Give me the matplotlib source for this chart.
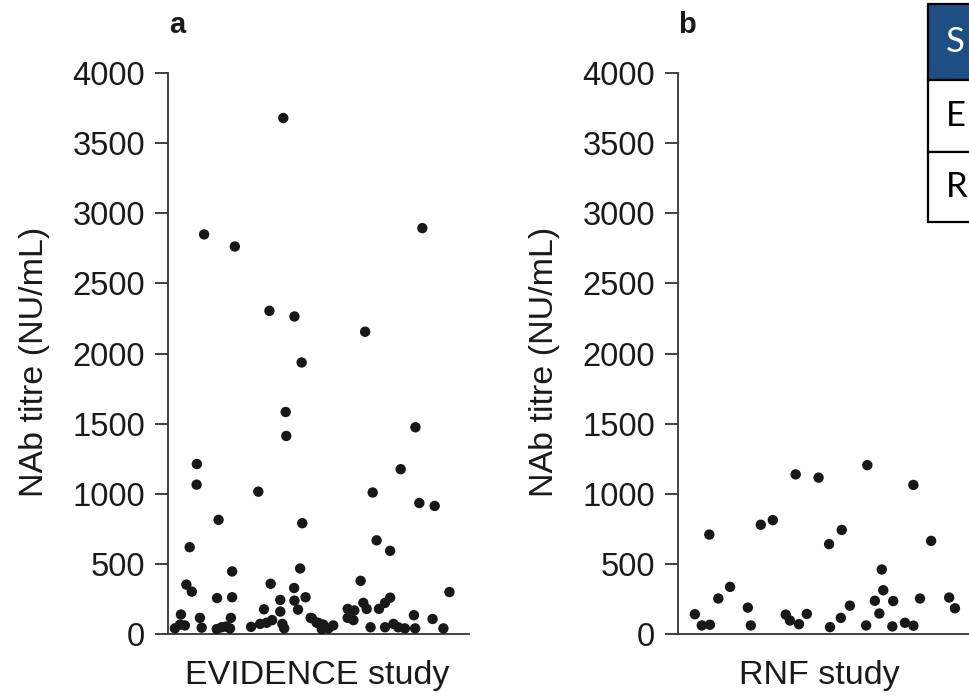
import matplotlib.pyplot as plt
from matplotlib.patches import Rectangle

# EVIDENCE study: position within the strip (0-1) and NAb titre (NU/mL)
evidence_pos = [0.383, 0.120, 0.222, 0.337, 0.420, 0.444, 0.391, 0.393, 0.096, 0.095,
                0.300, 0.168, 0.446, 0.072, 0.213, 0.439, 0.061, 0.079, 0.341, 0.419,
                0.163, 0.213, 0.373, 0.420, 0.457, 0.043, 0.106, 0.209, 0.319, 0.373,
                0.432, 0.474, 0.023, 0.040, 0.056, 0.112, 0.162, 0.178, 0.193, 0.206,
                0.276, 0.306, 0.328, 0.346, 0.380, 0.386, 0.494,
                0.845, 0.655, 0.822, 0.773, 0.680, 0.835, 0.886, 0.693, 0.738, 0.640,
                0.935, 0.649, 0.660, 0.701, 0.721, 0.738, 0.597, 0.619, 0.597, 0.616,
                0.478, 0.499, 0.516, 0.533, 0.549, 0.511, 0.673, 0.721, 0.749, 0.765,
                0.787, 0.817, 0.821, 0.879, 0.915]
evidence_titre = [3679, 2849, 2763, 2304, 2264, 1936, 1583, 1412, 1212, 1065,
                  1015, 814, 790, 619, 446, 467, 352, 302, 358, 328,
                  256, 262, 243, 238, 262, 139, 115, 115, 176, 160,
                  174, 115, 40, 67, 61, 45, 35, 48, 53, 40,
                  51, 72, 80, 99, 72, 40, 80,
                  2894, 2155, 1474, 1175, 1009, 934, 913, 668, 593, 379,
                  299, 222, 179, 179, 222, 259, 179, 168, 115, 99,
                  112, 80, 67, 40, 61, 35, 48, 48, 72, 48,
                  40, 134, 40, 107, 40]

# RNF study
rnf_pos = [0.104, 0.056, 0.079, 0.106, 0.134, 0.173, 0.232, 0.242, 0.275, 0.315,
           0.391, 0.467, 0.629, 0.782, 0.544, 0.502, 0.841, 0.677, 0.682, 0.654,
           0.715, 0.804, 0.901, 0.920, 0.571, 0.541, 0.669, 0.428, 0.358, 0.372,
           0.402, 0.505, 0.625, 0.712, 0.754, 0.782]
rnf_titre = [709, 141, 61, 66, 253, 336, 188, 61, 779, 812,
             1138, 1115, 1204, 1063, 742, 641, 664, 460, 312, 237,
             235, 253, 260, 183, 202, 115, 146, 143, 138, 96,
             70, 49, 61, 54, 80, 59]

yticks = [0, 500, 1000, 1500, 2000, 2500, 3000, 3500, 4000]
table_rows = ['S', 'E', 'R']

plt.rcParams['font.family'] = ['Liberation Sans', 'DejaVu Sans']

W, H = 969, 696
fig = plt.figure(figsize=(W / 100, H / 100), dpi=100)

def panel(left_px, pos, titre, letter, xlabel, xlab_x):
    ax = fig.add_axes([left_px / W, (H - 634) / H, 301 / W, 561 / H])
    ax.scatter(pos, titre, s=56, color='#181818', edgecolors='none', zorder=3,
               clip_on=False)
    ax.set_xlim(0, 1)
    ax.set_ylim(0, 4000)
    ax.set_yticks(yticks)
    for s in ['top', 'right']:
        ax.spines[s].set_visible(False)
    for s in ['left', 'bottom']:
        ax.spines[s].set_color('#333333')
        ax.spines[s].set_linewidth(1.3)
    ax.set_xticks([])
    ax.tick_params(axis='y', length=9.4, width=1.3, color='#333333', pad=7,
                   labelsize=23.5, labelcolor='#1a1a1a')
    ax.set_ylabel('NAb titre (NU/mL)', fontsize=24.5, color='#1a1a1a')
    ax.yaxis.set_label_coords(-0.392, 0.485)
    ax.set_xlabel(xlabel, fontsize=24.5, color='#1a1a1a')
    ax.xaxis.set_label_coords(xlab_x, -0.047)
    ax.text(0.03, 1.086, letter, transform=ax.transAxes, fontsize=21,
            fontweight='bold', ha='center', va='center', color='#1a1a1a')
    return ax

panel(168, evidence_pos, evidence_titre, 'a', 'EVIDENCE study', 0.497)
panel(678, rnf_pos, rnf_titre, 'b', 'RNF study', 0.468)

# partly visible table in the top-right corner
edges = [4, 80, 152, 222]
x0 = 928
for i, txt in enumerate(table_rows):
    top, bot = edges[i], edges[i + 1]
    fc = '#1f4e85' if i == 0 else 'white'
    fig.add_artist(Rectangle((x0 / W, 1 - bot / H), (W + 10 - x0) / W, (bot - top) / H,
                             transform=fig.transFigure, facecolor=fc,
                             edgecolor='black', linewidth=1.6, zorder=10))
    fig.text(946 / W, 1 - (top + bot) / 2 / H, txt, fontsize=25,
             family=['Lato', 'DejaVu Sans'], color='white' if i == 0 else 'black',
             ha='left', va='center', zorder=11)

fig.savefig('out.png', dpi=100)
